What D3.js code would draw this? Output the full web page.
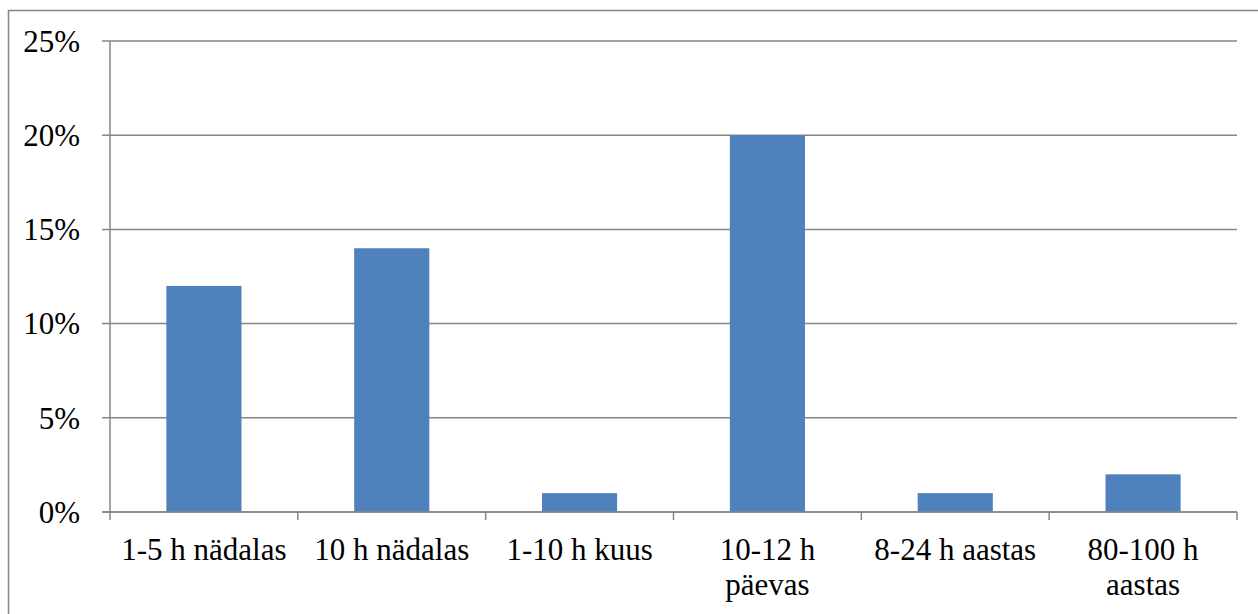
<!DOCTYPE html>
<html>
<head>
<meta charset="utf-8">
<script src="https://cdn.jsdelivr.net/npm/d3@7"></script>
<style>
  html, body { margin: 0; padding: 0; background: #fff; overflow: hidden; }
  svg text { font-family: "Liberation Serif", "Times New Roman", Times, "DejaVu Serif", serif; }
</style>
</head>
<body>
<div id="chart"></div>
<script>
// Bar chart: share of respondents by time spent
const categories = ["1-5 h nädalas", "10 h nädalas", "1-10 h kuus", "10-12 h\npäevas", "8-24 h aastas", "80-100 h\naastas"];
const values = [0.12, 0.14, 0.01, 0.20, 0.01, 0.02];
const yTicks = [0, 0.05, 0.10, 0.15, 0.20, 0.25];

const W = 1258, H = 614;
const margin = { top: 41, right: 21, bottom: 102, left: 110 };
const width = W - margin.left - margin.right;
const height = H - margin.top - margin.bottom;

const GRID = "#868686";
const BAR = "#4F81BD";

const svg = d3.select("#chart").append("svg")
    .attr("width", W)
    .attr("height", H);

// chart border (extends beyond the visible area on right and bottom)
svg.append("rect")
    .attr("x", 8.5).attr("y", 10.5)
    .attr("width", W + 20).attr("height", H + 20)
    .attr("fill", "none")
    .attr("stroke", GRID)
    .attr("stroke-width", 1.5);

const g = svg.append("g")
    .attr("transform", `translate(${margin.left},${margin.top})`);

// ── Scales ──
const x = d3.scaleBand()
    .domain(categories)
    .range([0, width])
    .paddingInner(0.6)
    .paddingOuter(0.3);

const xTicks = d3.scaleBand().domain(categories).range([0, width]);

const y = d3.scaleLinear()
    .domain([0, 0.25])
    .range([height, 0]);

// ── Gridlines ──
g.append("g")
    .selectAll("line")
    .data(yTicks)
    .join("line")
    .attr("x1", -8).attr("x2", width)
    .attr("y1", d => y(d)).attr("y2", d => y(d))
    .attr("stroke", GRID)
    .attr("stroke-width", 1.5);

// y labels
g.append("g")
    .selectAll("text")
    .data(yTicks)
    .join("text")
    .attr("x", -30)
    .attr("y", d => y(d))
    .attr("dy", "0.35em")
    .attr("text-anchor", "end")
    .style("font-size", "31px")
    .style("fill", "#000")
    .text(d => d3.format(".0%")(d));

// y axis line
g.append("line")
    .attr("x1", 0).attr("x2", 0)
    .attr("y1", 0).attr("y2", height)
    .attr("stroke", GRID)
    .attr("stroke-width", 1.5);

// ── Bars ──
g.append("g")
    .selectAll("rect")
    .data(values)
    .join("rect")
    .attr("x", (d, i) => x(categories[i]))
    .attr("width", x.bandwidth())
    .attr("y", d => y(d))
    .attr("height", d => height - y(d))
    .attr("fill", BAR);

// x axis baseline + ticks
g.append("line")
    .attr("x1", -8).attr("x2", width)
    .attr("y1", height).attr("y2", height)
    .attr("stroke", GRID)
    .attr("stroke-width", 1.5);

const tickPos = categories.map(c => xTicks(c)).concat([width]);
g.append("g")
    .selectAll("line")
    .data(tickPos)
    .join("line")
    .attr("x1", d => d).attr("x2", d => d)
    .attr("y1", height).attr("y2", height + 8)
    .attr("stroke", GRID)
    .attr("stroke-width", 1.5);

// x labels
const xl = g.append("g")
    .selectAll("text")
    .data(categories)
    .join("text")
    .attr("x", d => xTicks(d) + xTicks.bandwidth() / 2)
    .attr("y", height + 48)
    .attr("text-anchor", "middle")
    .style("font-size", "31px")
    .style("fill", "#000");

xl.each(function(d) {
    const lines = d.split("\n");
    const t = d3.select(this);
    lines.forEach((ln, i) => {
        t.append("tspan")
            .attr("x", xTicks(d) + xTicks.bandwidth() / 2)
            .attr("dy", i === 0 ? 0 : 35)
            .text(ln);
    });
});
</script>
</body>
</html>
